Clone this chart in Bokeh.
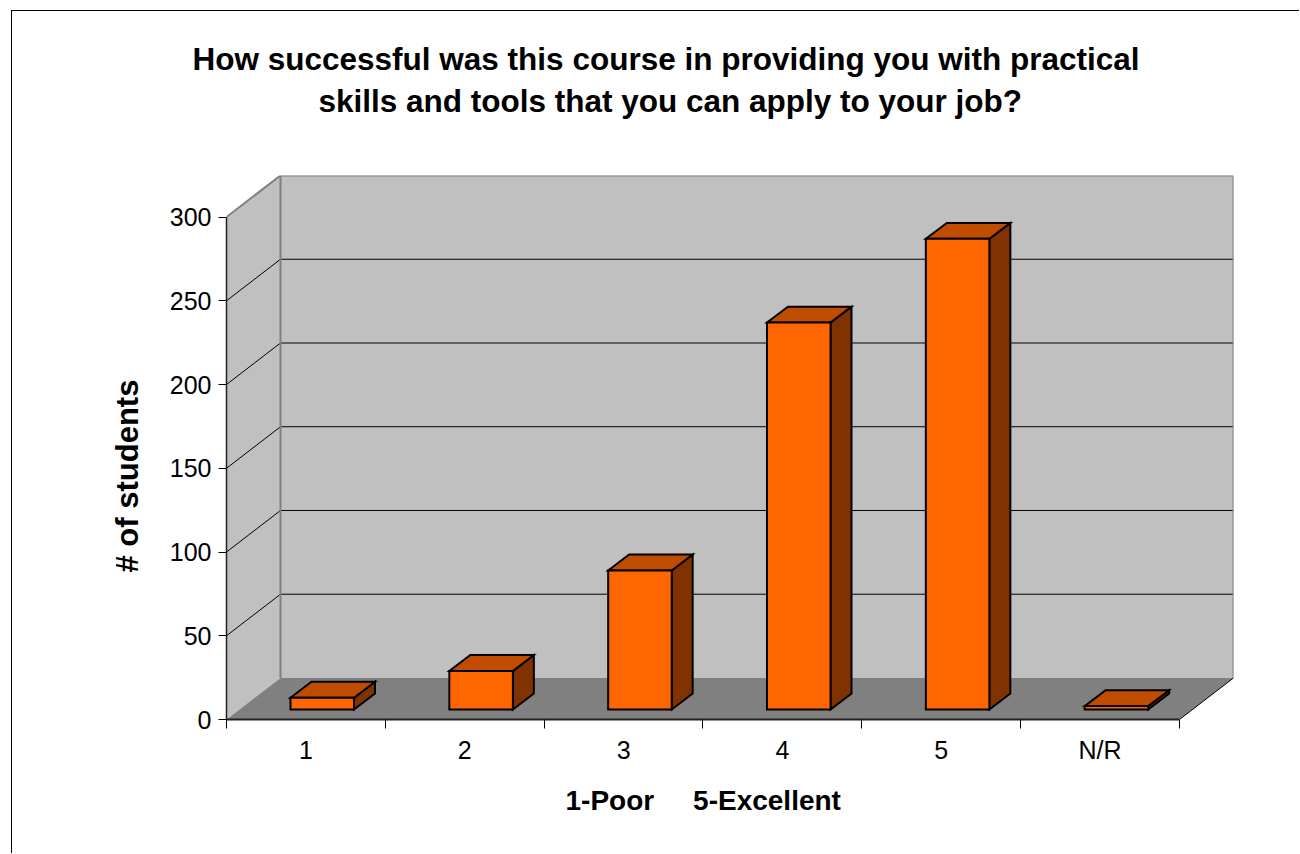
from bokeh.plotting import figure
from bokeh.models import Range1d, FixedTicker, Title
from bokeh.embed import file_html
from bokeh.resources import INLINE

# ---- data ----
title_lines = ["How successful was this course in providing you with practical",
               "skills and tools that you can apply to your job?"]
categories = ["1", "2", "3", "4", "5", "N/R"]
counts = [7, 23, 83, 231, 281, 2]
y_ticks = [0, 50, 100, 150, 200, 250, 300]
x_title = "1-Poor\u00a0\u00a0\u00a0\u00a0\u00a05-Excellent"
y_title = "# of students"

# ---- geometry / style ----
N = len(categories)
YMAX = y_ticks[-1]
DX, DY = 0.34, 24.8     # depth of the 3D box (data units)
FX, FY = 0.103, 6.0     # offset of bars' front faces
BX, BY = 0.132, 9.5     # depth of each bar
W = 0.40                # bar width
FONT = "Liberation Sans"

# canvas is shifted by the CSS border/margin (12, 11)
F_LEFT, F_RIGHT, F_TOP, F_BOTTOM = 214, 1221, 164, 708
WIDTH, HEIGHT = 1288, 843

p = figure(width=WIDTH, height=HEIGHT, output_backend="svg", toolbar_location=None,
           x_range=Range1d(0, N + DX), y_range=Range1d(0, YMAX + DY),
           min_border_left=F_LEFT, min_border_right=WIDTH - F_RIGHT,
           min_border_top=F_TOP, min_border_bottom=HEIGHT - F_BOTTOM)
p.styles = {"margin-left": "11px", "margin-top": "10px",
            "border-left": "1px solid black", "border-top": "1px solid black"}
p.outline_line_color = None
p.grid.visible = False
p.background_fill_color = "white"
p.border_fill_color = "white"

# walls
back = ([DX, N + DX, N + DX, DX], [DY, DY, YMAX + DY, YMAX + DY])
side = ([0, DX, DX, 0], [0, DY, YMAX + DY, YMAX])
p.patches(xs=[back[0], side[0]], ys=[back[1], side[1]],
          fill_color="#C0C0C0", line_color=None)

# gridlines
gx0, gy0, gx1, gy1 = [], [], [], []
for t in y_ticks[1:-1]:
    gx0 += [DX, 0]; gy0 += [t + DY, t]
    gx1 += [N + DX, DX]; gy1 += [t + DY, t + DY]
p.segment(x0=gx0, y0=gy0, x1=gx1, y1=gy1, line_color="black", line_width=1)

# floor
p.patch(x=[0, N, N + DX, DX], y=[0, 0, DY, DY], fill_color="#808080", line_color=None)

# wall outlines
p.multi_line(xs=[[DX, N + DX, N + DX], [DX, DX], [0, DX]],
             ys=[[YMAX + DY, YMAX + DY, DY], [DY, YMAX + DY], [YMAX, YMAX + DY]],
             line_color="#808080", line_width=2)
p.segment(x0=[N], y0=[0], x1=[N + DX], y1=[DY], line_color="black", line_width=1)

# bars
fl, fr, fb, ft = [], [], [], []
top_xs, top_ys, side_xs, side_ys = [], [], [], []
for i, v in enumerate(counts):
    c = i + 0.5 + FX
    xl, xr = c - W / 2, c + W / 2
    y0, y1 = FY, FY + v
    fl.append(xl); fr.append(xr); fb.append(y0); ft.append(y1)
    top_xs.append([xl, xr, xr + BX, xl + BX])
    top_ys.append([y1, y1, y1 + BY, y1 + BY])
    side_xs.append([xr, xr + BX, xr + BX, xr])
    side_ys.append([y0, y0 + BY, y1 + BY, y1])
p.patches(xs=side_xs, ys=side_ys, fill_color="#803300", line_color="black",
          line_width=2, line_join="miter")
p.patches(xs=top_xs, ys=top_ys, fill_color="#C04C00", line_color="black",
          line_width=2, line_join="miter")
p.quad(left=fl, right=fr, bottom=fb, top=ft, fill_color="#FF6600",
       line_color="black", line_width=2, line_join="miter")

# axes
xa = p.xaxis[0]
xa.ticker = FixedTicker(ticks=[i + 0.5 for i in range(N)], minor_ticks=list(range(N + 1)))
xa.major_label_overrides = {i + 0.5: c for i, c in enumerate(categories)}
xa.bounds = (0, N)
xa.major_tick_out = 0
xa.major_tick_in = 0
xa.minor_tick_out = 9
xa.minor_tick_in = 0
xa.minor_tick_line_color = "black"
xa.axis_line_color = "#222222"
xa.axis_line_width = 2
xa.major_label_text_font = FONT
xa.major_label_text_font_size = "25px"
xa.major_label_text_color = "black"
xa.major_label_standoff = 7

ya = p.yaxis[0]
ya.ticker = FixedTicker(ticks=y_ticks, minor_ticks=[])
ya.bounds = (0, YMAX)
ya.major_tick_out = 8
ya.major_tick_in = 0
ya.major_tick_line_color = "black"
ya.axis_line_color = "#222222"
ya.axis_line_width = 1.5
ya.major_label_text_font = FONT
ya.major_label_text_font_size = "25px"
ya.major_label_text_color = "black"
ya.major_label_standoff = 7

# x-axis title (below the tick labels)
p.add_layout(Title(text=x_title, align="left", offset=339, standoff=36,
                   vertical_align="top",
                   text_font=FONT, text_font_style="bold", text_font_size="28px",
                   text_color="black"), "below")

# y-axis title (rotated, placed left of the axis)
p.add_layout(Title(text=y_title, align="left", offset=147, standoff=44,
                   text_font=FONT, text_font_style="bold", text_font_size="31px",
                   text_color="black"), "left")

# chart title: spacer nearest the plot, then line 2, then line 1
p.add_layout(Title(text=" ", standoff=50.5, text_font_size="2px"), "above")
p.add_layout(Title(text=title_lines[1], align="left", offset=92, standoff=4,
                   text_font=FONT, text_font_style="bold", text_font_size="31.5px",
                   text_color="black"), "above")
p.add_layout(Title(text=title_lines[0], align="left", offset=-34, standoff=4,
                   text_font=FONT, text_font_style="bold", text_font_size="31.5px",
                   text_color="black"), "above")

open("out.html", "w").write(file_html(p, INLINE))
